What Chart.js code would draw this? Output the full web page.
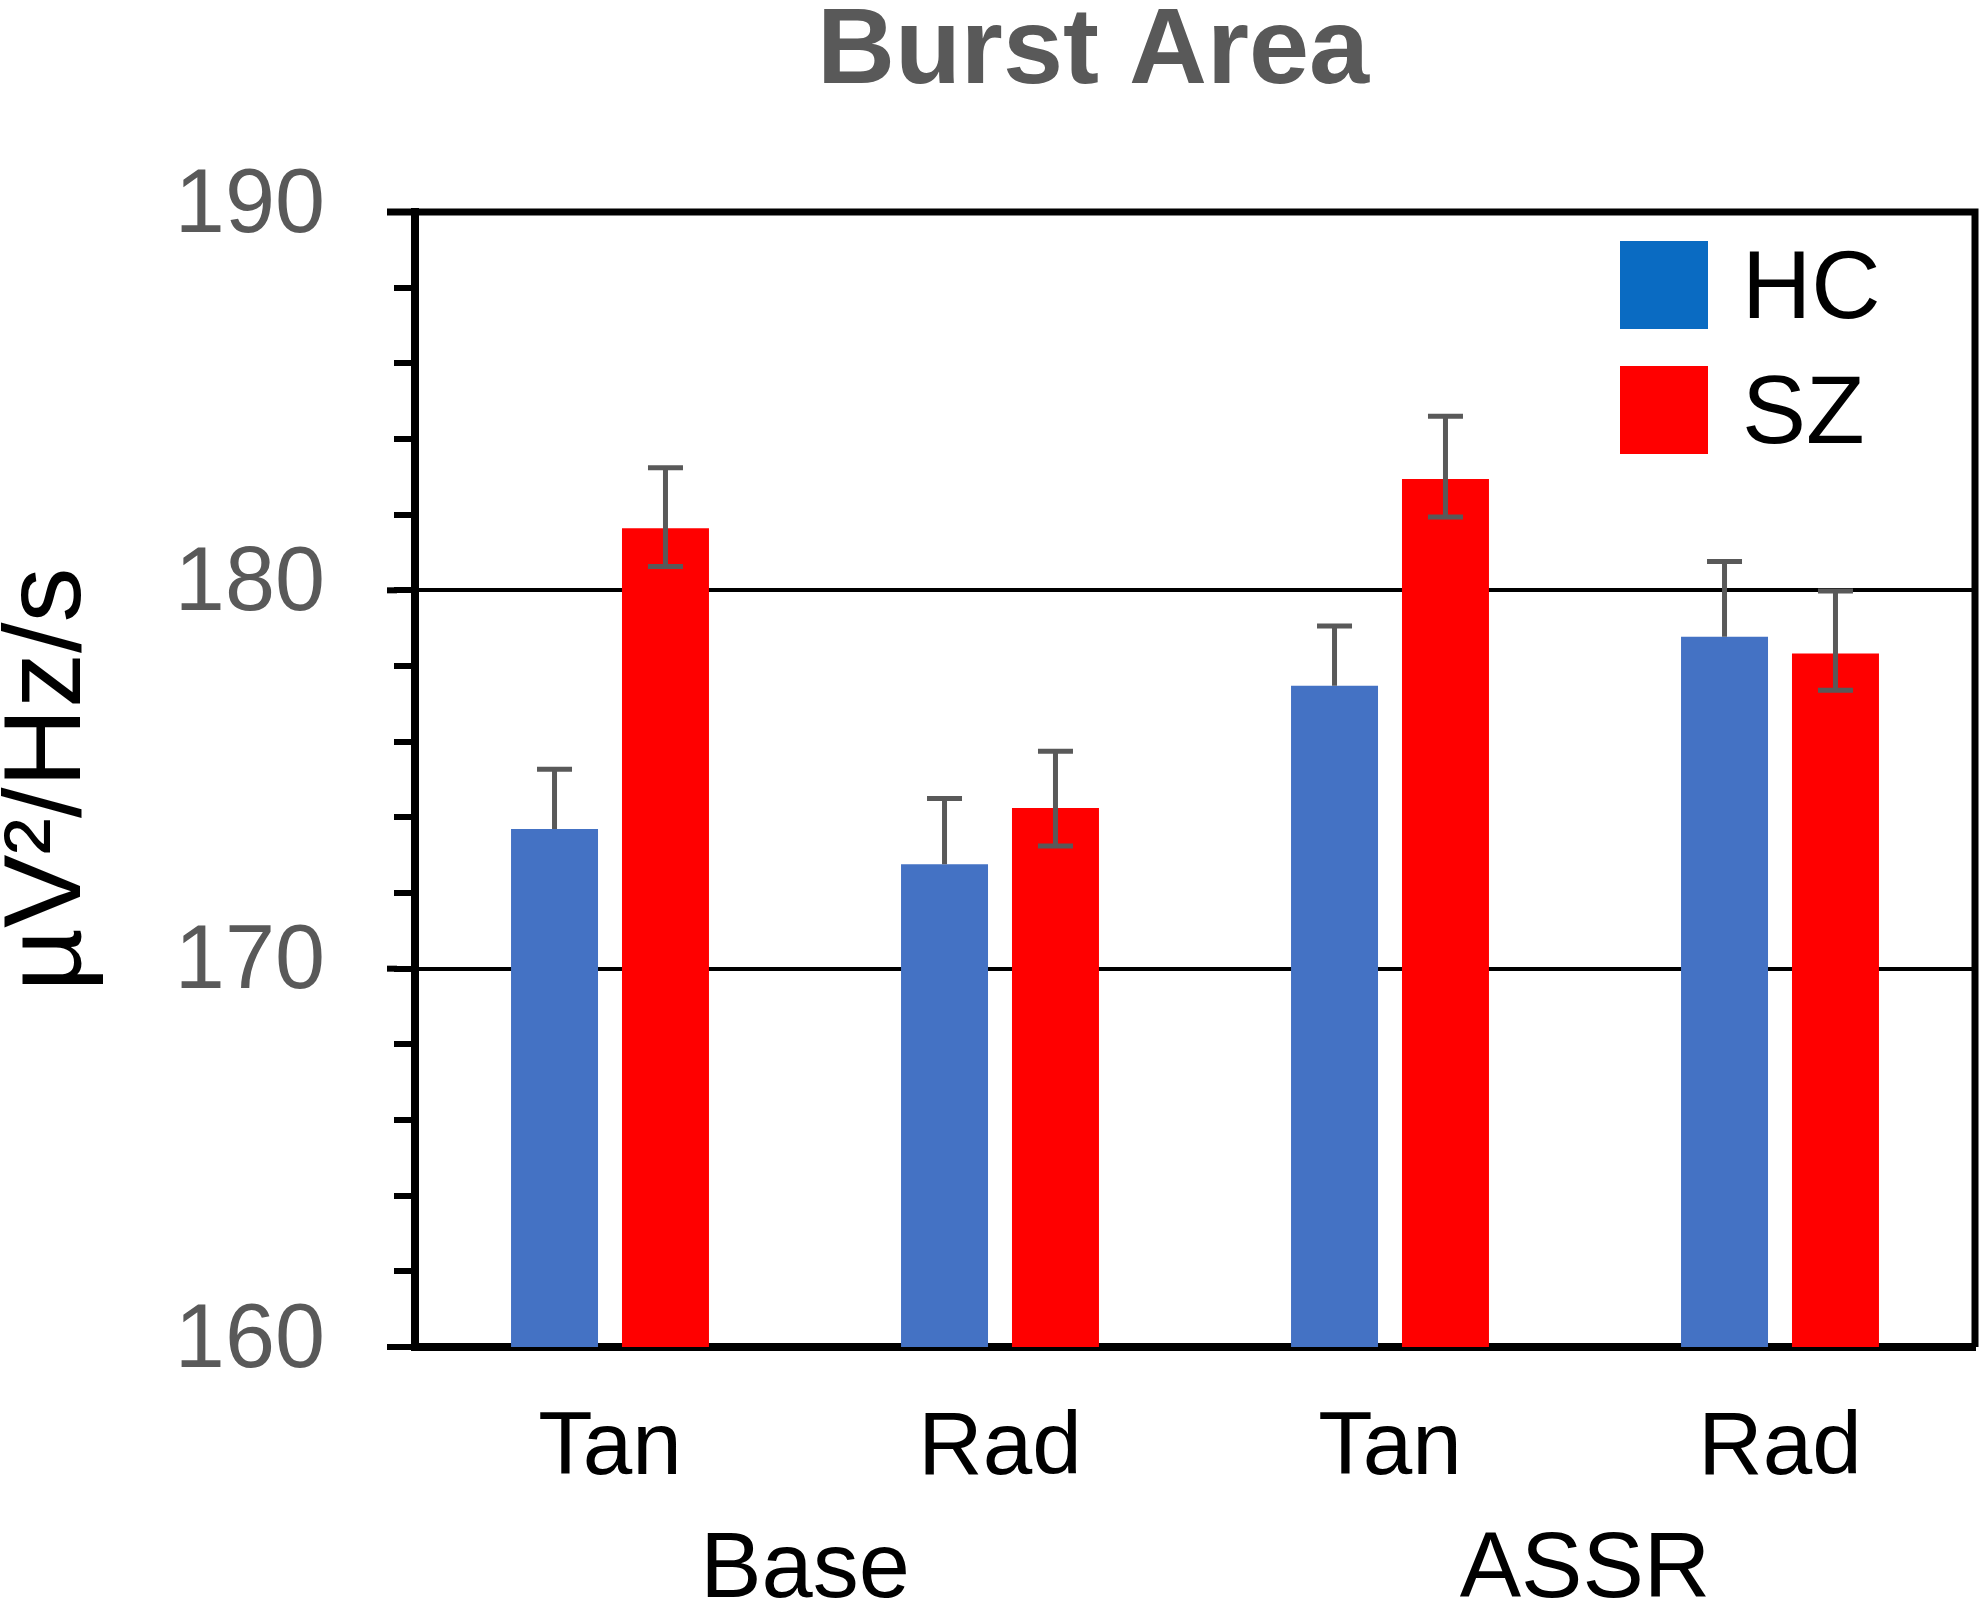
<!DOCTYPE html>
<html lang="en">

<head>
    <meta charset="UTF-8">
    <title>Burst Area</title>
    <script src="https://cdn.jsdelivr.net/npm/chart.js"></script>
    <style>
        body { margin: 0; background: #ffffff; }
        .grafico { width: 1985px; height: 1605px; }
    </style>
</head>

<body>
    <div class="grafico">
        <canvas id="grafico-barra"></canvas>
    </div>

<script>

    // dados
    const categorias = ['Tan', 'Rad', 'Tan', 'Rad'];
    const grupos = ['Base', 'ASSR'];
    const series = ['HC', 'SZ'];

    const mediasHC = [173.69, 172.76, 177.48, 178.77];
    const erroSupHC = [1.58, 1.74, 1.58, 1.99];

    const mediasSZ = [181.64, 174.25, 182.94, 178.33];
    const erroSupSZ = [1.60, 1.50, 1.66, 1.65];
    const erroInfSZ = [1.01, 1.01, 1.00, 0.97];

    const ticksY = [160, 170, 180, 190];

    const corHC = '#4472C4';
    const corSZ = '#FF0000';
    const corLegendaHC = '#0A6BC2';
    const cinza = '#595959';
    const fonte = '"Liberation Sans", Arial, sans-serif';

    Chart.defaults.font.family = fonte;

    // barras de erro
    const barrasErro = {
        id: 'barrasErro',
        afterDatasetsDraw(chart) {
            const ctx = chart.ctx;
            const y = chart.scales.y;
            const erros = [
                { sup: erroSupHC, inf: null },
                { sup: erroSupSZ, inf: erroInfSZ }
            ];
            ctx.save();
            ctx.strokeStyle = cinza;
            ctx.lineWidth = 5;
            chart.data.datasets.forEach((ds, di) => {
                const meta = chart.getDatasetMeta(di);
                meta.data.forEach((bar, i) => {
                    const v = ds.data[i];
                    const topo = y.getPixelForValue(v + erros[di].sup[i]);
                    let base = bar.y;
                    ctx.beginPath();
                    if (erros[di].inf) {
                        base = y.getPixelForValue(v - erros[di].inf[i]);
                        ctx.moveTo(bar.x - 17.5, base);
                        ctx.lineTo(bar.x + 17.5, base);
                    }
                    ctx.moveTo(bar.x, base);
                    ctx.lineTo(bar.x, topo);
                    ctx.moveTo(bar.x - 17.5, topo);
                    ctx.lineTo(bar.x + 17.5, topo);
                    ctx.stroke();
                });
            });
            ctx.restore();
        }
    };

    // moldura, título, legenda e grupos
    const decoracao = {
        id: 'decoracao',
        afterDraw(chart) {
            const ctx = chart.ctx;
            const area = chart.chartArea;
            const x = chart.scales.x;
            const y = chart.scales.y;

            ctx.save();
            ctx.strokeStyle = '#000000';

            // ticks maiores
            ctx.lineWidth = 6;
            ticksY.forEach(v => {
                const py = y.getPixelForValue(v);
                ctx.beginPath();
                ctx.moveTo(area.left - 28, py);
                ctx.lineTo(area.left - 18, py);
                ctx.stroke();
            });

            // topo e lado direito
            ctx.lineWidth = 7;
            ctx.beginPath();
            ctx.moveTo(area.left - 28, area.top);
            ctx.lineTo(area.right, area.top);
            ctx.lineTo(area.right, area.bottom);
            ctx.stroke();

            // título
            ctx.fillStyle = cinza;
            ctx.font = 'bold 108px ' + fonte;
            ctx.textAlign = 'center';
            ctx.textBaseline = 'alphabetic';
            ctx.fillText('Burst Area', 1093, 83);

            // grupos
            ctx.fillStyle = '#000000';
            ctx.font = '92px ' + fonte;
            grupos.forEach((g, i) => {
                const px = (x.getPixelForTick(i * 2) + x.getPixelForTick(i * 2 + 1)) / 2;
                ctx.fillText(g, px, 1597);
            });

            // legenda
            const coresLegenda = [corLegendaHC, corSZ];
            const topos = [241, 366];
            ctx.textAlign = 'left';
            ctx.font = '96px ' + fonte;
            series.forEach((s, i) => {
                ctx.fillStyle = coresLegenda[i];
                ctx.fillRect(1620, topos[i], 88, 88);
                ctx.fillStyle = '#000000';
                ctx.fillText(s, 1742, topos[i] + 77);
            });

            ctx.restore();
        }
    };

    const ctxGrafico = document.getElementById('grafico-barra').getContext('2d');

    new Chart(ctxGrafico, {
        type: 'bar',
        data: {
            labels: categorias,
            datasets: [
                {
                    label: series[0],
                    data: mediasHC,
                    backgroundColor: corHC,
                    borderWidth: 0,
                    categoryPercentage: 0.569,
                    barPercentage: 0.784
                },
                {
                    label: series[1],
                    data: mediasSZ,
                    backgroundColor: corSZ,
                    borderWidth: 0,
                    categoryPercentage: 0.569,
                    barPercentage: 0.784
                }
            ]
        },
        options: {
            responsive: true,
            maintainAspectRatio: false,
            animation: false,
            layout: {
                padding: { top: 212, right: 10, left: 0, bottom: 0 }
            },
            plugins: {
                legend: { display: false },
                title: { display: false },
                tooltip: { enabled: false }
            },
            scales: {
                x: {
                    z: 1,
                    grid: { display: false, drawTicks: false },
                    border: { display: true, color: '#000000', width: 8 },
                    ticks: {
                        color: '#000000',
                        font: { size: 89 },
                        padding: 49,
                        maxRotation: 0,
                        autoSkip: false
                    },
                    afterFit: function (s) { s.height = 258; }
                },
                y: {
                    min: 160,
                    max: 190,
                    ticks: {
                        stepSize: 2,
                        autoSkip: false,
                        color: cinza,
                        font: { size: 90 },
                        padding: 69,
                        labelOffset: -5,
                        callback: function (v) { return v % 10 === 0 ? v : ''; }
                    },
                    grid: {
                        color: function (c) {
                            const v = c.tick ? c.tick.value : 0;
                            return (v === 170 || v === 180) ? '#000000' : 'rgba(0,0,0,0)';
                        },
                        lineWidth: 4,
                        tickColor: '#000000',
                        tickWidth: 6,
                        tickLength: 21
                    },
                    border: { color: '#000000', width: 8 },
                    title: {
                        display: true,
                        text: 'µV²/Hz/s',
                        color: '#000000',
                        font: { size: 110, lineHeight: 0.9 },
                        padding: 0
                    },
                    afterFit: function (s) { s.width = 415; }
                }
            }
        },
        plugins: [barrasErro, decoracao]
    });

</script>
</body>

</html>
